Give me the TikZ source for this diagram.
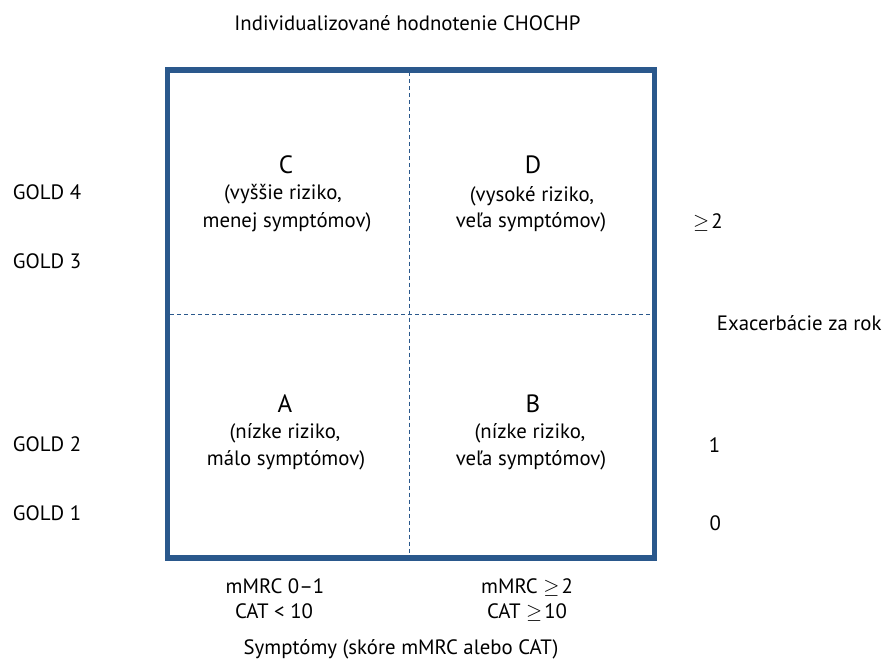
\documentclass[tikz,border=0pt]{standalone}
\usepackage{fontspec}
\setmainfont{PT Sans}
\definecolor{goldblue}{RGB}{42,88,140}
\newcommand{\gtreq}{\ensuremath{\geq}\kern2pt}
\tikzset{
  lbl/.style={anchor=base, inner sep=0pt, font=\fontsize{20.8}{24}\selectfont},
  lblw/.style={anchor=base west, inner sep=0pt, font=\fontsize{20.8}{24}\selectfont},
  letter/.style={anchor=base, inner sep=0pt, font=\fontsize{25}{29}\selectfont},
  frame/.style={draw=goldblue, line width=5.5pt},
  divider/.style={draw=goldblue, line width=1.5pt, dash pattern=on 4pt off 3pt}
}
\begin{document}
\begin{tikzpicture}[x=1pt,y=-1pt]
\useasboundingbox (0,0) rectangle (882,660);
% grid
\coordinate (tl) at (167.5,70);
\coordinate (br) at (654.5,558);
\coordinate (vt) at (409.5,72.5);
\coordinate (vb) at (409.5,555.5);
\coordinate (hl) at (170,314.5);
\coordinate (hr) at (652,314.5);
\draw[divider] (vt) -- (vb);
\draw[divider] (hl) -- (hr);
\draw[frame] (tl) rectangle (br);
% title
\node[lbl] (title) at (407.5,31) {Individualizované hodnotenie CHOCHP};
% quadrants
\node[letter] (C) at (286,174) {C};
\node[lbl] (C1) at (283,200) {(vyššie riziko,};
\node[lbl] (C2) at (287,227) {menej symptómov)};
\node[letter] (D) at (533,174) {D};
\node[lbl] (D1) at (532,201) {(vysoké riziko,};
\node[lbl] (D2) at (531,227) {veľa symptómov)};
\node[letter] (A) at (285,412) {A};
\node[lbl] (A1) at (285,438) {(nízke riziko,};
\node[lbl] (A2) at (286,465) {málo symptómov)};
\node[letter] (B) at (533,412) {B};
\node[lbl] (B1) at (530,438) {(nízke riziko,};
\node[lbl] (B2) at (531,465) {veľa symptómov)};
% left labels
\node[lblw] (g4) at (12.7,199.3) {GOLD 4};
\node[lblw] (g3) at (12.7,268) {GOLD 3};
\node[lblw] (g2) at (12.7,451.7) {GOLD 2};
\node[lblw] (g1) at (12.7,520.7) {GOLD 1};
% right labels
\node[lblw] (e2) at (693,229) {\gtreq 2};
\node[lblw] (ex) at (716.7,330) {Exacerbácie za rok};
\node[lbl] (e1) at (714.5,452.7) {1};
\node[lbl] (e0) at (715.3,530) {0};
% bottom labels
\node[lbl] (m1) at (275,593) {mMRC 0–1};
\node[lbl] (c1) at (274,618) {CAT < 10};
\node[lbl] (m2) at (527,593) {mMRC \gtreq 2};
\node[lbl] (c2) at (527,618) {CAT \gtreq 10};
\node[lbl] (sym) at (401,654) {Symptómy (skóre mMRC alebo CAT)};
\end{tikzpicture}
\end{document}
